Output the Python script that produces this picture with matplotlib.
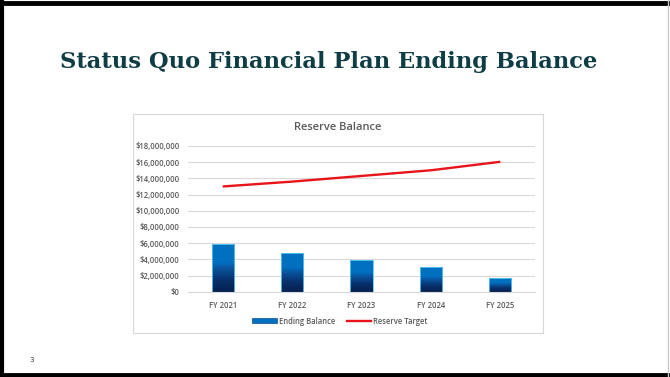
import matplotlib
matplotlib.use("Agg")
import matplotlib.pyplot as plt
import numpy as np
from matplotlib.patches import Rectangle, Patch
from matplotlib.lines import Line2D
from matplotlib.ticker import FuncFormatter, MultipleLocator

categories = ["FY 2021", "FY 2022", "FY 2023", "FY 2024", "FY 2025"]
ending_balance = [5850000, 4820000, 3880000, 3050000, 1730000]
reserve_target = [13000000, 13600000, 14300000, 15000000, 16050000]
slide_title = "Status Quo Financial Plan Ending Balance"
chart_title = "Reserve Balance"
page_number = "3"

W, H = 670, 377
fig = plt.figure(figsize=(W / 100, H / 100), dpi=100)
fig.patch.set_facecolor("white")

# slide border
fig.add_artist(Line2D([0, 1], [1 - 2.5 / H, 1 - 2.5 / H], color="black", lw=3.5, transform=fig.transFigure))
fig.add_artist(Line2D([1.5 / W, 1.5 / W], [0, 1], color="black", lw=3, transform=fig.transFigure))
fig.add_artist(Line2D([0, 1], [2 / H, 2 / H], color="black", lw=3.5, transform=fig.transFigure))
fig.add_artist(Line2D([1 - 2 / W, 1 - 2 / W], [0, 1], color="#c8c8c8", lw=1, transform=fig.transFigure))

fig.text(60 / W, 1 - 62 / H, slide_title, fontsize=16.3, fontweight="bold",
         family="DejaVu Serif", color="#0f3d46", va="center", ha="left")
fig.text(32 / W, 1 - 360 / H, page_number, fontsize=5, color="#333333", va="center", ha="center")

# chart box
fig.add_artist(Rectangle((133 / W, 1 - 333 / H), (543 - 133) / W, (333 - 114) / H,
                         transform=fig.transFigure, facecolor="white", edgecolor="#d9d9d9", lw=0.8,
                         zorder=-5))
fig.text(338 / W, 1 - 128 / H, chart_title, fontsize=8, fontweight="semibold", color="#595959",
         va="center", ha="center", family="Open Sans")

ax = fig.add_axes([188 / W, 1 - 291.7 / H, (535 - 188) / W, (291.7 - 146) / H])
ax.set_facecolor("none")
x = np.arange(len(categories))
bw = 0.32
bars = ax.bar(x, ending_balance, width=bw, color="none", edgecolor="#5bc8f0", lw=0.6, zorder=3)

# gradient fill on bars
cmap = matplotlib.colors.LinearSegmentedColormap.from_list(
    "g", [(0, "#061f4e"), (0.25, "#08306b"), (0.5, "#0a55a0"), (0.62, "#0070c0"), (1, "#0070c0")])
grad = np.linspace(0, 1, 256).reshape(-1, 1)
for b, v in zip(bars, ending_balance):
    im = ax.imshow(grad, cmap=cmap, origin="lower", aspect="auto",
                   extent=[b.get_x(), b.get_x() + b.get_width(), 0, v], zorder=2.5)
    im.set_clip_path(b)

ax.plot(x, reserve_target, color="#e8141a", lw=1.7, zorder=4, solid_capstyle="butt")

ax.set_xlim(-0.5, len(categories) - 0.5)
ax.set_ylim(0, 18000000)
ax.yaxis.set_major_locator(MultipleLocator(2000000))
ax.yaxis.set_major_formatter(FuncFormatter(lambda v, p: f"${v:,.0f}"))
ax.set_xticks(x)
ax.set_xticklabels(categories)
ax.grid(axis="y", color="#d9d9d9", lw=0.8, zorder=0)
ax.set_axisbelow(True)
for s in ax.spines.values():
    s.set_visible(False)
ax.spines["bottom"].set_visible(True)
ax.spines["bottom"].set_color("#d9d9d9")
ax.tick_params(axis="both", length=0, labelsize=5.5, colors="#595959")
ax.tick_params(axis="y", pad=6)
ax.tick_params(axis="x", pad=7)
for t in ax.get_xticklabels() + ax.get_yticklabels():
    t.set_family("Open Sans")
    t.set_fontweight("semibold")

# legend
handles = [Patch(facecolor="#0070c0", edgecolor="#0a4a8e", lw=0.5, label="Ending Balance"),
           Line2D([], [], color="#e8141a", lw=1.7, label="Reserve Target")]
leg = fig.legend(handles=handles, loc="center", bbox_to_anchor=(340 / W, 1 - 321 / H), ncol=2,
                 frameon=False, prop={"family": "Open Sans", "size": 5.5, "weight": "semibold"},
                 handlelength=3.2, handleheight=0.6, columnspacing=1.5, handletextpad=0.3)
for t in leg.get_texts():
    t.set_color("#595959")

fig.savefig("out.png", dpi=100, facecolor="white")
